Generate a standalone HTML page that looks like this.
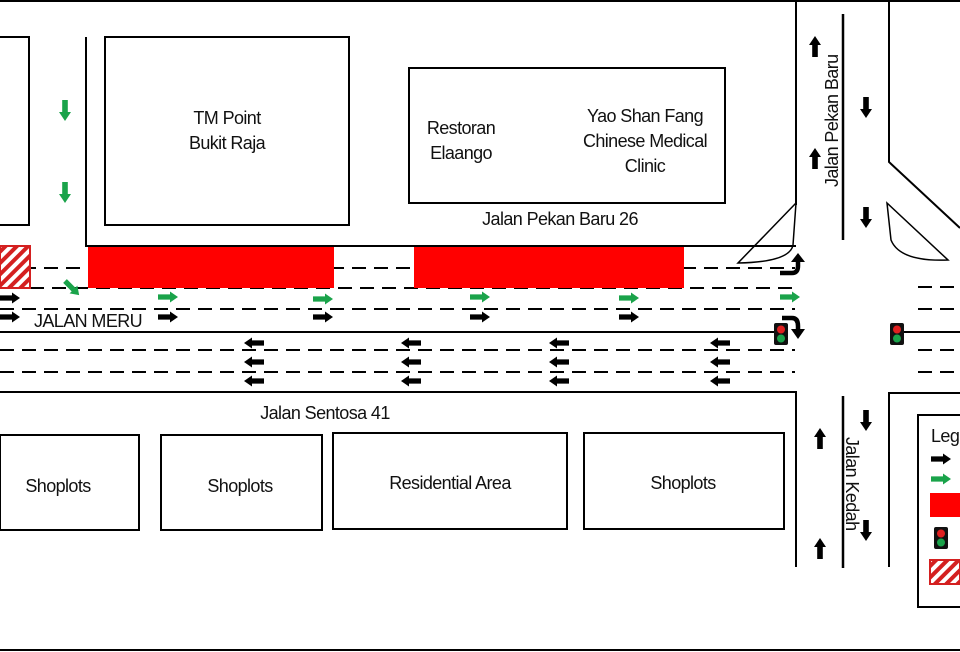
<!DOCTYPE html>
<html><head><meta charset="utf-8"><style>
html,body{margin:0;padding:0;background:#fff}
svg{display:block}
text{font-family:"Liberation Sans",Arial,sans-serif;font-size:18px;fill:#111;letter-spacing:-0.6px}
</style></head><body>
<svg width="960" height="652" viewBox="0 0 960 652" xmlns="http://www.w3.org/2000/svg">
<defs>
<path id="R" d="M0,-2.6 H12 V-5.5 L20,0 L12,5.5 V2.6 H0 Z"/>
<path id="L" d="M0,-2.6 H-12 V-5.5 L-20,0 L-12,5.5 V2.6 H0 Z"/>
<path id="D" d="M-2.8,0 V12 H-6 L0,21 L6,12 H2.8 V0 Z"/>
<path id="U" d="M-2.8,0 V-12 H-6 L0,-21 L6,-12 H2.8 V0 Z"/>
<pattern id="hatch" width="8" height="8" patternUnits="userSpaceOnUse" patternTransform="rotate(45)">
<rect width="8" height="8" fill="#fff"/><rect width="4" height="8" fill="#d42020"/></pattern>
<g id="TL"><rect x="-7" y="-11" width="14" height="22" rx="2" fill="#111"/><circle cx="0" cy="-4.5" r="4" fill="#e02020"/><circle cx="0" cy="4.5" r="4" fill="#1aa34a"/></g>
</defs>
<g fill="none" stroke="#000" stroke-width="2">
<line x1="0" y1="1" x2="960" y2="1" stroke-width="2"/>
<line x1="0" y1="650" x2="960" y2="650" stroke-width="2"/>
<polyline points="0,37 29,37 29,225 0,225"/>
<rect x="105" y="37" width="244" height="188"/>
<rect x="409" y="68" width="316" height="135"/>
<polyline points="86,37 86,246 796,246"/>
<rect x="0" y="435" width="139" height="95"/>
<rect x="161" y="435" width="161" height="95"/>
<rect x="333" y="433" width="234" height="96"/>
<rect x="584" y="433" width="200" height="96"/>
<line x1="0" y1="332" x2="775" y2="332"/>
<line x1="904" y1="332" x2="960" y2="332"/>
<polyline points="0,392 796,392 796,567"/>
<line x1="843" y1="396" x2="843" y2="568" stroke-width="2.5"/>
<polyline points="889,567 889,393 960,393"/>
<line x1="796" y1="0" x2="796" y2="205"/>
<line x1="843" y1="14" x2="843" y2="240" stroke-width="2.5"/>
<polyline points="889,0 889,162 960,228"/>
<path d="M796,203 L738,263 Q790,262 793,245 Z" stroke-width="1.5"/>
<path d="M887,203 L948,260 Q900,262 891,240 Z" stroke-width="1.5"/>
<rect x="918" y="415" width="50" height="192" stroke-width="2"/>
</g>
<g stroke="#000" stroke-width="2" stroke-dasharray="14,8">
<line x1="0" y1="268" x2="795" y2="268"/>
<line x1="30" y1="288" x2="795" y2="288"/>
<line x1="0" y1="309" x2="795" y2="309"/>
<line x1="0" y1="350" x2="795" y2="350"/>
<line x1="0" y1="372" x2="795" y2="372"/>
<line x1="918" y1="287" x2="960" y2="287"/>
<line x1="918" y1="309" x2="960" y2="309"/>
<line x1="918" y1="350" x2="960" y2="350"/>
<line x1="918" y1="372" x2="960" y2="372"/>
</g>
<rect x="88" y="247" width="246" height="41" fill="#ff0000"/>
<rect x="414" y="247" width="270" height="41" fill="#ff0000"/>
<rect x="0" y="246" width="30" height="42" fill="url(#hatch)" stroke="#d42020" stroke-width="2"/>
<g fill="#000">
<use href="#R" x="0" y="298"/><use href="#R" x="0" y="317"/>
<use href="#R" x="158" y="317"/><use href="#R" x="313" y="317"/><use href="#R" x="470" y="317"/><use href="#R" x="619" y="317"/>
<use href="#L" x="264" y="343"/><use href="#L" x="264" y="362"/><use href="#L" x="264" y="381"/>
<use href="#L" x="421" y="343"/><use href="#L" x="421" y="362"/><use href="#L" x="421" y="381"/>
<use href="#L" x="569" y="343"/><use href="#L" x="569" y="362"/><use href="#L" x="569" y="381"/>
<use href="#L" x="730" y="343"/><use href="#L" x="730" y="362"/><use href="#L" x="730" y="381"/>
<use href="#U" x="815" y="57"/><use href="#U" x="815" y="169"/>
<use href="#D" x="866" y="97"/><use href="#D" x="866" y="207"/>
<use href="#U" x="820" y="449"/><use href="#U" x="820" y="559"/>
<use href="#D" x="866" y="410"/><use href="#D" x="866" y="520"/>
<use href="#R" x="931" y="459"/>
</g>
<g fill="#1aa34a">
<use href="#R" x="158" y="297"/><use href="#R" x="313" y="299"/><use href="#R" x="470" y="297"/><use href="#R" x="619" y="298"/><use href="#R" x="780" y="297"/>
<use href="#D" x="65" y="100"/><use href="#D" x="65" y="182"/>
<use href="#R" transform="translate(65,281) rotate(45)"/>
<use href="#R" x="931" y="479"/>
</g>
<g fill="none" stroke="#000" stroke-width="4.5">
<path d="M780,273 H792 Q798,273 798,266 V262"/>
<path d="M782,318 H792 Q798,318 798,326 V330"/>
</g>
<path d="M791,262 L798,253 L805,262 Z" fill="#000"/>
<path d="M791,329 L798,339 L805,329 Z" fill="#000"/>
<use href="#TL" x="781" y="334"/>
<use href="#TL" x="897" y="334"/>
<use href="#TL" x="941" y="538"/>
<rect x="930" y="493" width="30" height="24" fill="#ff0000"/>
<rect x="930" y="560" width="30" height="24" fill="url(#hatch)" stroke="#d42020" stroke-width="2"/>
<text x="227" y="124" text-anchor="middle">TM Point</text>
<text x="227" y="149" text-anchor="middle">Bukit Raja</text>
<text x="461" y="134" text-anchor="middle">Restoran</text>
<text x="461" y="159" text-anchor="middle">Elaango</text>
<text x="645" y="122" text-anchor="middle">Yao Shan Fang</text>
<text x="645" y="147" text-anchor="middle">Chinese Medical</text>
<text x="645" y="172" text-anchor="middle">Clinic</text>
<text x="560" y="225" text-anchor="middle">Jalan Pekan Baru 26</text>
<text x="34" y="327">JALAN MERU</text>
<text x="325" y="419" text-anchor="middle">Jalan Sentosa 41</text>
<text x="58" y="492" text-anchor="middle">Shoplots</text>
<text x="240" y="492" text-anchor="middle">Shoplots</text>
<text x="450" y="489" text-anchor="middle">Residential Area</text>
<text x="683" y="489" text-anchor="middle">Shoplots</text>
<text x="931" y="442">Legend</text>
<text transform="translate(838,187) rotate(-90)">Jalan Pekan Baru</text>
<text transform="translate(846,437) rotate(90)">Jalan Kedah</text>
</svg>
</body></html>
